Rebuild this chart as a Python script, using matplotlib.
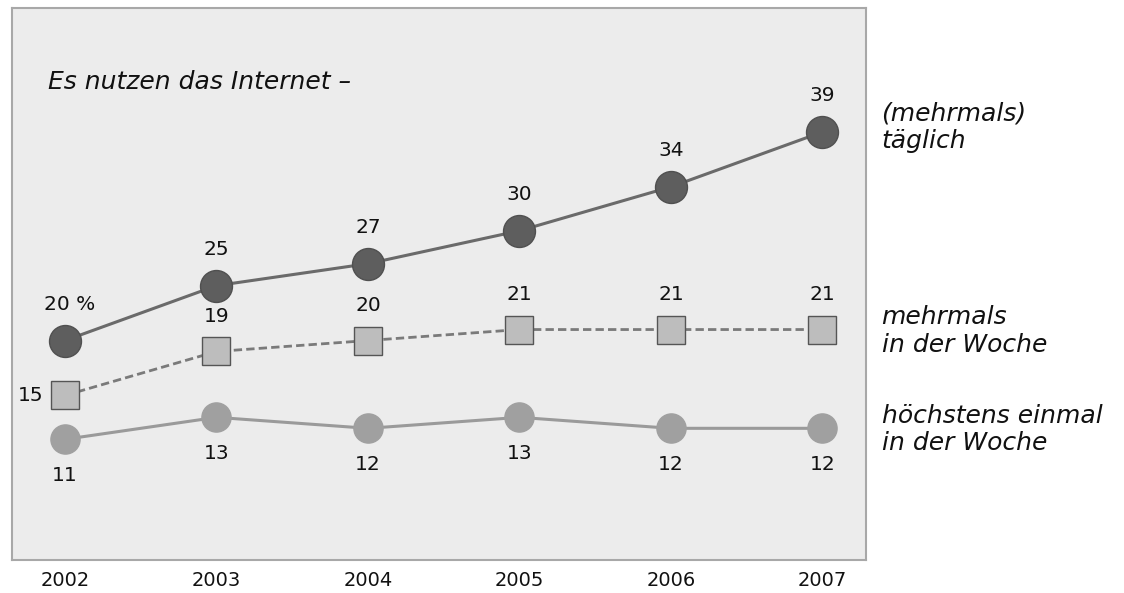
"""Internet usage frequency 2002-2007, line chart with markers."""

import matplotlib
matplotlib.use("Agg")
import matplotlib.pyplot as plt

years = [2002, 2003, 2004, 2005, 2006, 2007]
daily = [20, 25, 27, 30, 34, 39]
weekly_multi = [15, 19, 20, 21, 21, 21]
weekly_once = [11, 13, 12, 13, 12, 12]

title_text = "Es nutzen das Internet –"
series_names = ["(mehrmals)\ntäglich", "mehrmals\nin der Woche", "höchstens einmal\nin der Woche"]

plt.rcParams["font.family"] = ["DejaVu Sans"]

fig = plt.figure(figsize=(11.24, 5.93), dpi=100)
ax = fig.add_axes([0.0107, 0.0556, 0.760, 0.931])
ax.set_facecolor("#ececec")
for sp in ax.spines.values():
    sp.set_color("#a8a8a8")
    sp.set_linewidth(1.5)

# lines
ax.plot(years, weekly_once, color="#9a9a9a", lw=2.2, marker="o", ms=21,
        markerfacecolor="#a0a0a0", markeredgecolor="#a0a0a0", zorder=3)
ax.plot(years, weekly_multi, color="#7a7a7a", lw=2, ls=(0, (3, 1.5)), marker="s", ms=20,
        markerfacecolor="#bdbdbd", markeredgecolor="#555555", markeredgewidth=1, zorder=3)
ax.plot(years, daily, color="#6a6a6a", lw=2.2, marker="o", ms=23,
        markerfacecolor="#5e5e5e", markeredgecolor="#505050", zorder=4)

lab_kw = dict(textcoords="offset points", ha="center", va="center", fontsize=14.5, color="#111111")
for i, (x, v) in enumerate(zip(years, daily)):
    ax.annotate(f"{v} %" if i == 0 else str(v), (x, v), xytext=(3 if i == 0 else 0, 26), **lab_kw)
for i, (x, v) in enumerate(zip(years, weekly_multi)):
    if i == 0:
        ax.annotate(str(v), (x, v), xytext=(-25, 0), **lab_kw)
    else:
        ax.annotate(str(v), (x, v), xytext=(0, 25), **lab_kw)
for x, v in zip(years, weekly_once):
    ax.annotate(str(v), (x, v), xytext=(0, -26), **lab_kw)

ax.text(0.042, 0.865, title_text, transform=ax.transAxes, fontsize=18, fontstyle="italic",
        ha="left", va="center", color="#111111")

# right-hand series labels
label_y = [daily[-1] + 0.4, weekly_multi[-1] - 0.1, weekly_once[-1] - 0.1]
for name, y in zip(series_names, label_y):
    ax.annotate(name, xy=(1.0, y), xycoords=("axes fraction", "data"), xytext=(11, 0),
                textcoords="offset points", ha="left", va="center", fontsize=18,
                fontstyle="italic", color="#111111", linespacing=1.2, annotation_clip=False)

ax.set_xlim(2001.65, 2007.29)
ax.set_ylim(0, 50.3)
ax.set_yticks([])
ax.set_xticks(years)
ax.set_xticklabels([str(y) for y in years], fontsize=14, color="#111111")
ax.tick_params(axis="x", length=0, pad=8)

fig.savefig("out.png", dpi=100, facecolor="white")
